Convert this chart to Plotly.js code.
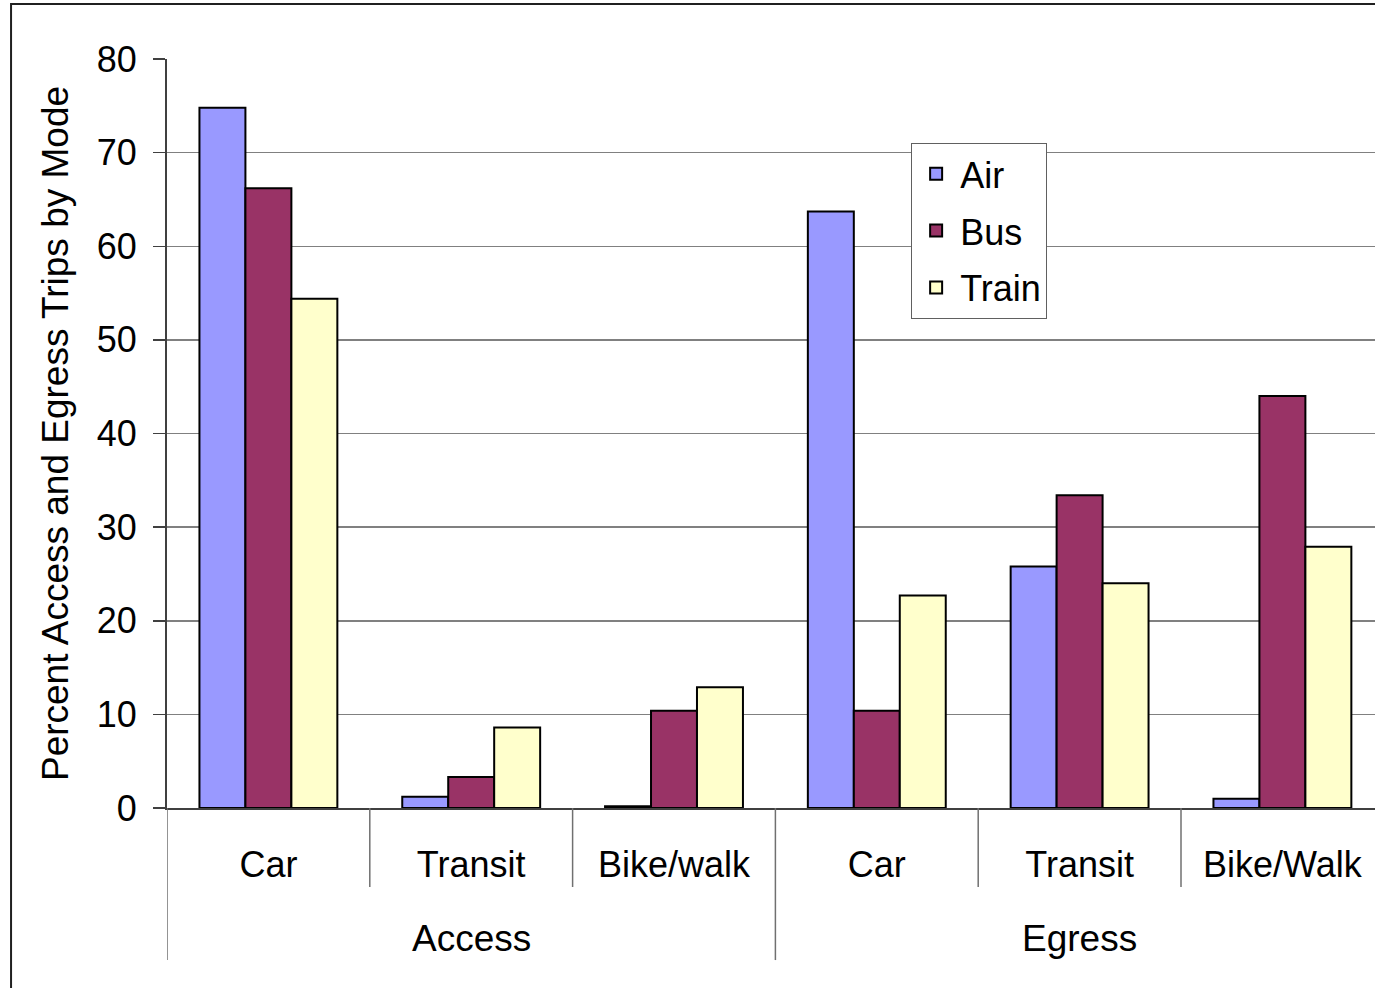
<!DOCTYPE html>
<html>
<head>
<meta charset="utf-8">
<script src="https://cdn.plot.ly/plotly-3.0.1.min.js"></script>
<style>html,body{margin:0;padding:0;background:#fff;}#chart{width:1375px;height:988px;}</style>
</head>
<body>
<div id="chart"></div>
<script>
var modes = ["Car", "Transit", "Bike/walk", "Car", "Transit", "Bike/Walk"];
var directions = ["Access", "Egress"];
var airValues = [74.8, 1.2, 0.2, 63.7, 25.8, 1.0];
var busValues = [66.2, 3.3, 10.4, 10.4, 33.4, 44.0];
var trainValues = [54.4, 8.6, 12.9, 22.7, 24.0, 27.9];
var yTicks = [0, 10, 20, 30, 40, 50, 60, 70, 80];

var FONT = "Liberation Sans, Arial, sans-serif";
var xIdx = modes.map(function (_, i) { return i; });

function barTrace(name, vals, color) {
  return {
    type: "bar", name: name, x: xIdx, y: vals,
    marker: { color: color, line: { color: "#000000", width: 2 } },
    legendgroup: name, hoverinfo: "skip"
  };
}

var data = [
  barTrace("Air", airValues, "#9999FF"),
  barTrace("Bus", busValues, "#993366"),
  barTrace("Train", trainValues, "#FFFFCC")
];

var shapes = [];
[0.5, 1.5, 3.5, 4.5].forEach(function (v) {
  shapes.push({ type: "line", xref: "x", yref: "paper", x0: v, x1: v, y0: 0, y1: -0.1055,
    line: { color: "#707070", width: 1.5 } });
});
[-0.5, 2.5, 5.5].forEach(function (v) {
  shapes.push({ type: "line", xref: "x", yref: "paper", x0: v, x1: v, y0: 0, y1: -0.203,
    line: { color: "#707070", width: 1.5 } });
});
// outer chart border
shapes.push({ type: "rect", xref: "paper", yref: "paper", x0: -0.1291, x1: 1.2, y0: -0.4, y1: 1.0734,
  line: { color: "#202020", width: 2 }, layer: "below" });

var annotations = directions.map(function (d, i) {
  return { text: d, xref: "x", yref: "paper", x: i * 3 + 1, y: -0.1736, xanchor: "center", yanchor: "middle",
    showarrow: false, font: { family: FONT, size: 37, color: "#000" } };
});

var layout = {
  width: 1375, height: 988,
  margin: { l: 167, r: 0, t: 59, b: 180, pad: 0 },
  paper_bgcolor: "#ffffff", plot_bgcolor: "#ffffff",
  font: { family: FONT, size: 36, color: "#000" },
  barmode: "group", bargap: 0.32, bargroupgap: 0,
  showlegend: true,
  legend: {
    x: 0.616, y: 0.888, xanchor: "left", yanchor: "top",
    bgcolor: "#ffffff", bordercolor: "#606060", borderwidth: 1,
    font: { family: FONT, size: 36, color: "#000" },
    traceorder: "grouped", tracegroupgap: 7, itemwidth: 38
  },
  xaxis: {
    range: [-0.5, 5.4566], tickmode: "array", tickvals: xIdx, ticktext: modes,
    ticks: "", showgrid: false, zeroline: false,
    showline: true, linecolor: "#404040", linewidth: 2,
    tickfont: { family: FONT, size: 36, color: "#000" },
    ticklabelstandoff: 24, fixedrange: true
  },
  yaxis: {
    range: [0, 80], tickmode: "array", tickvals: yTicks,
    ticks: "outside", ticklen: 12, tickwidth: 1.5, tickcolor: "#404040",
    showline: true, linecolor: "#404040", linewidth: 2,
    showgrid: true, gridcolor: "#808080", gridwidth: 1.5, zeroline: false,
    tickfont: { family: FONT, size: 36, color: "#000" },
    ticklabelstandoff: 9,
    title: { text: "Percent Access and Egress Trips by Mode", font: { family: FONT, size: 37, color: "#000" }, standoff: 17 },
    fixedrange: true
  },
  shapes: shapes,
  annotations: annotations
};

Plotly.newPlot("chart", data, layout, { displayModeBar: false, staticPlot: true });
</script>
</body>
</html>
